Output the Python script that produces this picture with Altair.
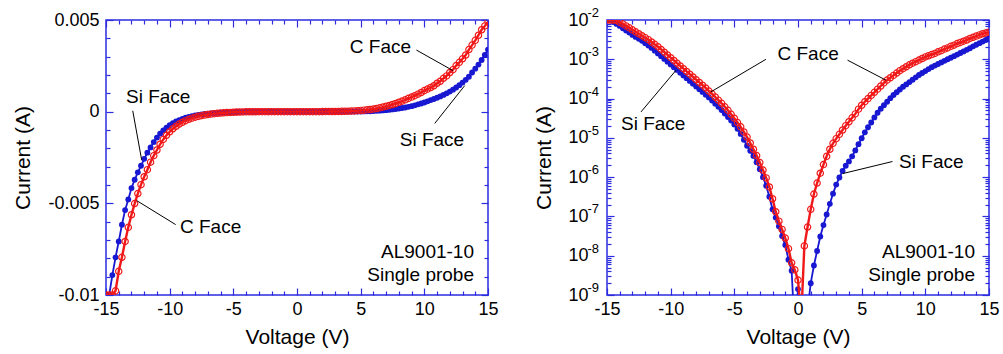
import altair as alt
import pandas as pd

FONT = "Liberation Sans"
RED = "#f01818"
BLUE = "#1818d2"
FRAME = "#2b2be0"
W, H = 382, 275

# Bias sweep, -15 V to +15 V in 0.25 V steps
voltage = [round(-15 + 0.25 * i, 2) for i in range(121)]

# log10 of |current| (A) for each face, same order as voltage
c_face_log = [
    -2.00, -2.00, -2.00, -2.01, -2.06, -2.10, -2.15, -2.20, -2.25, -2.30,
    -2.35, -2.40, -2.45, -2.50, -2.56, -2.62, -2.68, -2.75, -2.82, -2.89,
    -2.96, -3.03, -3.10, -3.17, -3.24, -3.31, -3.38, -3.45, -3.52, -3.59,
    -3.66, -3.73, -3.81, -3.88, -3.96, -4.04, -4.12, -4.21, -4.30, -4.40,
    -4.50, -4.61, -4.72, -4.85, -4.98, -5.13, -5.29, -5.45, -5.63, -5.82,
    -6.02, -6.25, -6.55, -6.88, -7.12, -7.33, -7.55, -7.82, -8.18, -8.36,
    -8.62,
    -9.60, -7.75, -7.27, -6.82, -6.43, -6.15, -5.90, -5.68, -5.47, -5.29,
    -5.14, -5.02, -4.91, -4.80, -4.69, -4.59, -4.49, -4.39, -4.27, -4.17,
    -4.08, -4.00, -3.92, -3.84, -3.76, -3.68, -3.60, -3.53, -3.47, -3.41,
    -3.35, -3.29, -3.24, -3.19, -3.14, -3.10, -3.06, -3.02, -2.98, -2.94,
    -2.91, -2.88, -2.85, -2.81, -2.78, -2.74, -2.71, -2.67, -2.64, -2.60,
    -2.57, -2.54, -2.51, -2.47, -2.44, -2.41, -2.38, -2.35, -2.33, -2.31,
]
si_face_log = [
    -2.00, -2.00, -2.05, -2.10, -2.15, -2.21, -2.27, -2.32, -2.38, -2.43,
    -2.48, -2.53, -2.59, -2.65, -2.71, -2.78, -2.85, -2.92, -2.99, -3.06,
    -3.13, -3.20, -3.27, -3.34, -3.41, -3.48, -3.55, -3.62, -3.69, -3.76,
    -3.83, -3.90, -3.97, -4.05, -4.13, -4.21, -4.29, -4.38, -4.47, -4.56,
    -4.66, -4.77, -4.90, -5.05, -5.20, -5.33, -5.46, -5.62, -5.80, -6.00,
    -6.22, -6.50, -6.82, -7.03, -7.25, -7.50, -7.73, -8.10, -8.38, -10.0,
    -8.85,
    -10.0, -10.0, -9.40, -8.70, -8.25, -7.88, -7.51, -7.22, -6.95, -6.68,
    -6.42, -6.19, -6.01, -5.84, -5.71, -5.60, -5.47, -5.32, -5.16, -5.01,
    -4.86, -4.73, -4.61, -4.48, -4.36, -4.26, -4.17, -4.08, -3.99, -3.91,
    -3.84, -3.77, -3.70, -3.64, -3.58, -3.52, -3.46, -3.40, -3.35, -3.30,
    -3.25, -3.20, -3.16, -3.12, -3.08, -3.04, -3.00, -2.96, -2.92, -2.88,
    -2.84, -2.80, -2.76, -2.72, -2.67, -2.63, -2.59, -2.55, -2.51, -2.47,
]

# Axis ticks and labels
x_label_values = [-15, -10, -5, 0, 5, 10, 15]
x_tick_values = list(range(-15, 16))
lin_label_values = [-0.01, -0.005, 0, 0.005]
lin_tick_values = [round(-0.01 + 0.001 * i, 3) for i in range(16)]
log_label_values = [1e-9, 1e-8, 1e-7, 1e-6, 1e-5, 1e-4, 1e-3, 1e-2]
log_exponents = ["-9", "-8", "-7", "-6", "-5", "-4", "-3", "-2"]
log_tick_values = [m * 10.0 ** e for e in range(-9, -2) for m in range(1, 10)] + [1e-2]

# Annotations, linear panel
lin_note_text = ["C Face", "Si Face", "Si Face", "C Face"]
lin_note_v = [4.15, 8.07, -13.43, -9.19]
lin_note_i = [0.00351, -0.00155, 0.00078, -0.00631]
lin_lead_v1 = [9.38, 10.82, -12.9, -9.53]
lin_lead_i1 = [0.00336, -0.00064, 0.00005, -0.00616]
lin_lead_v2 = [12.25, 13.17, -12.2, -12.59]
lin_lead_i2 = [0.00224, 0.00142, -0.00263, -0.00485]
lin_sample_i = [-0.00767, -0.00889]

# Annotations, log panel
log_note_text = ["C Face", "Si Face", "Si Face"]
log_note_v = [-1.61, -13.9, 7.94]
log_note_i = [1.33e-3, 2.24e-5, 2.45e-6]
log_lead_v1 = [-2.52, 3.89, -12.33, 7.42]
log_lead_i1 = [1.0e-3, 9.5e-4, 4.57e-5, 2.5e-6]
log_lead_v2 = [-6.84, 6.9, -9.58, 3.5]
log_lead_i2 = [1.48e-4, 2.95e-4, 5.25e-4, 1.23e-6]
log_sample_i = [1.23e-8, 3.3e-9]

sample_text = ["AL9001-10", "Single probe"]
sample_v = 13.9

rows = []
for face, logs in (("C Face", c_face_log), ("Si Face", si_face_log)):
    for v, lg in zip(voltage, logs):
        mag = 10.0 ** lg
        sign = (v > 0) - (v < 0)
        rows.append({"face": face, "V": v, "I": sign * mag, "absI": mag})
iv = pd.DataFrame(rows)
si_df = iv[iv.face == "Si Face"]
c_df = iv[iv.face == "C Face"]

x_scale = alt.Scale(domain=[-15, 15], nice=False, zero=False)
lin_scale = alt.Scale(domain=[-0.01, 0.005], nice=False, zero=False)
log_scale = alt.Scale(type="log", domain=[1e-9, 1e-2], nice=False)

label_style = dict(
    ticks=False, tickSize=0, domain=False, grid=False,
    labelFont=FONT, labelFontSize=18, labelColor="black",
    labelFlush=False, labelOverlap=False,
    titleFont=FONT, titleFontSize=21, titleFontWeight="normal", titleColor="black",
)

x_axis = alt.Axis(values=x_label_values, labelExpr="datum.value + ''",
                  labelPadding=5, title="Voltage (V)", titlePadding=8, **label_style)
lin_axis = alt.Axis(values=lin_label_values, labelExpr="datum.value + ''",
                    labelPadding=7, title="Current (A)", titlePadding=14, **label_style)
log_axis = alt.Axis(values=log_label_values, labelExpr="'10'",
                    labelPadding=19, title="Current (A)", titlePadding=13, **label_style)


def tick_axis(vals, major_test, orient, offset):
    return alt.Axis(
        orient=orient, offset=offset, values=vals, labels=False, domain=False,
        grid=False, title=None, tickColor=FRAME, tickWidth=1.2,
        tickSize={"condition": {"test": major_test, "value": 7}, "value": 4},
    )


X_MAJOR = "datum.value % 5 === 0"
LIN_MAJOR = "round(datum.value * 1000) % 5 === 0"
LOG_MAJOR = "abs(log(datum.value) / LN10 - round(log(datum.value) / LN10)) < 0.000001"


def panel(ycol, y_scale, y_axis, y_ticks, y_major, y_anchor, notes, leads, sample_i):
    def enc(chart, axis_x=None, axis_y=None):
        return chart.encode(
            x=alt.X("V:Q", scale=x_scale, axis=axis_x),
            y=alt.Y(f"{ycol}:Q", scale=y_scale, axis=axis_y),
        )

    layers = [
        enc(alt.Chart(si_df).mark_line(color=BLUE, strokeWidth=1.8, clip=True), x_axis, y_axis),
        enc(alt.Chart(si_df).mark_circle(color=BLUE, size=34, opacity=1, clip=True)),
        enc(alt.Chart(c_df).mark_line(color=RED, strokeWidth=2.4, clip=True)),
        enc(alt.Chart(c_df).mark_point(shape="circle", filled=False, color=RED, size=40,
                                       strokeWidth=1.2, opacity=1, clip=True)),
    ]

    anchor = pd.DataFrame({"V": [0.0], ycol: [y_anchor]})
    # inward ticks: bottom & left edges, then top & right edges
    layers.append(enc(alt.Chart(anchor).mark_point(opacity=0),
                      tick_axis(x_tick_values, X_MAJOR, "top", -H),
                      tick_axis(y_ticks, y_major, "right", -W)))
    layers.append(enc(alt.Chart(anchor).mark_point(opacity=0),
                      tick_axis(x_tick_values, X_MAJOR, "bottom", -H),
                      tick_axis(y_ticks, y_major, "left", -W)))

    lead_df = pd.DataFrame({"V": leads[0], ycol: leads[1], "V2": leads[2], "Y2": leads[3]})
    layers.append(alt.Chart(lead_df).mark_rule(color="black", strokeWidth=1).encode(
        x=alt.X("V:Q", scale=x_scale, axis=None),
        y=alt.Y(f"{ycol}:Q", scale=y_scale, axis=None),
        x2="V2:Q", y2="Y2:Q"))

    note_df = pd.DataFrame({"label": notes[0], "V": notes[1], ycol: notes[2]})
    layers.append(enc(alt.Chart(note_df).mark_text(
        align="left", baseline="middle", font=FONT, fontSize=19, color="black"))
        .encode(text="label:N"))

    sample_df = pd.DataFrame({"label": sample_text, "V": [sample_v] * 2, ycol: sample_i})
    layers.append(enc(alt.Chart(sample_df).mark_text(
        align="right", baseline="middle", font=FONT, fontSize=19, color="black"))
        .encode(text="label:N"))
    return layers


left_layers = panel(
    "I", lin_scale, lin_axis, lin_tick_values, LIN_MAJOR, 0.0,
    (lin_note_text, lin_note_v, lin_note_i),
    (lin_lead_v1, lin_lead_i1, lin_lead_v2, lin_lead_i2),
    lin_sample_i,
)
right_layers = panel(
    "absI", log_scale, log_axis, log_tick_values, LOG_MAJOR, 1e-5,
    (log_note_text, log_note_v, log_note_i),
    (log_lead_v1, log_lead_i1, log_lead_v2, log_lead_i2),
    log_sample_i,
)

# superscript exponents next to the "10" labels of the log axis
exp_df = pd.DataFrame({"val": log_label_values, "exp": log_exponents})
right_layers.append(alt.Chart(exp_df).mark_text(
    align="right", baseline="middle", dy=-7, font=FONT, fontSize=13, color="black"
).encode(x=alt.value(-8), y=alt.Y("val:Q", scale=log_scale, axis=None), text="exp:N"))

left = alt.layer(*left_layers).resolve_axis(x="independent", y="independent").properties(width=W, height=H)
right = alt.layer(*right_layers).resolve_axis(x="independent", y="independent").properties(width=W, height=H)

chart = alt.hconcat(left, right, spacing=119, bounds="flush").properties(
    padding={"left": 12, "top": 6, "right": 2, "bottom": 5}
).configure_view(stroke=FRAME, strokeWidth=1.5)

chart.save("out.html", embed_options={"renderer": "svg", "actions": False})
